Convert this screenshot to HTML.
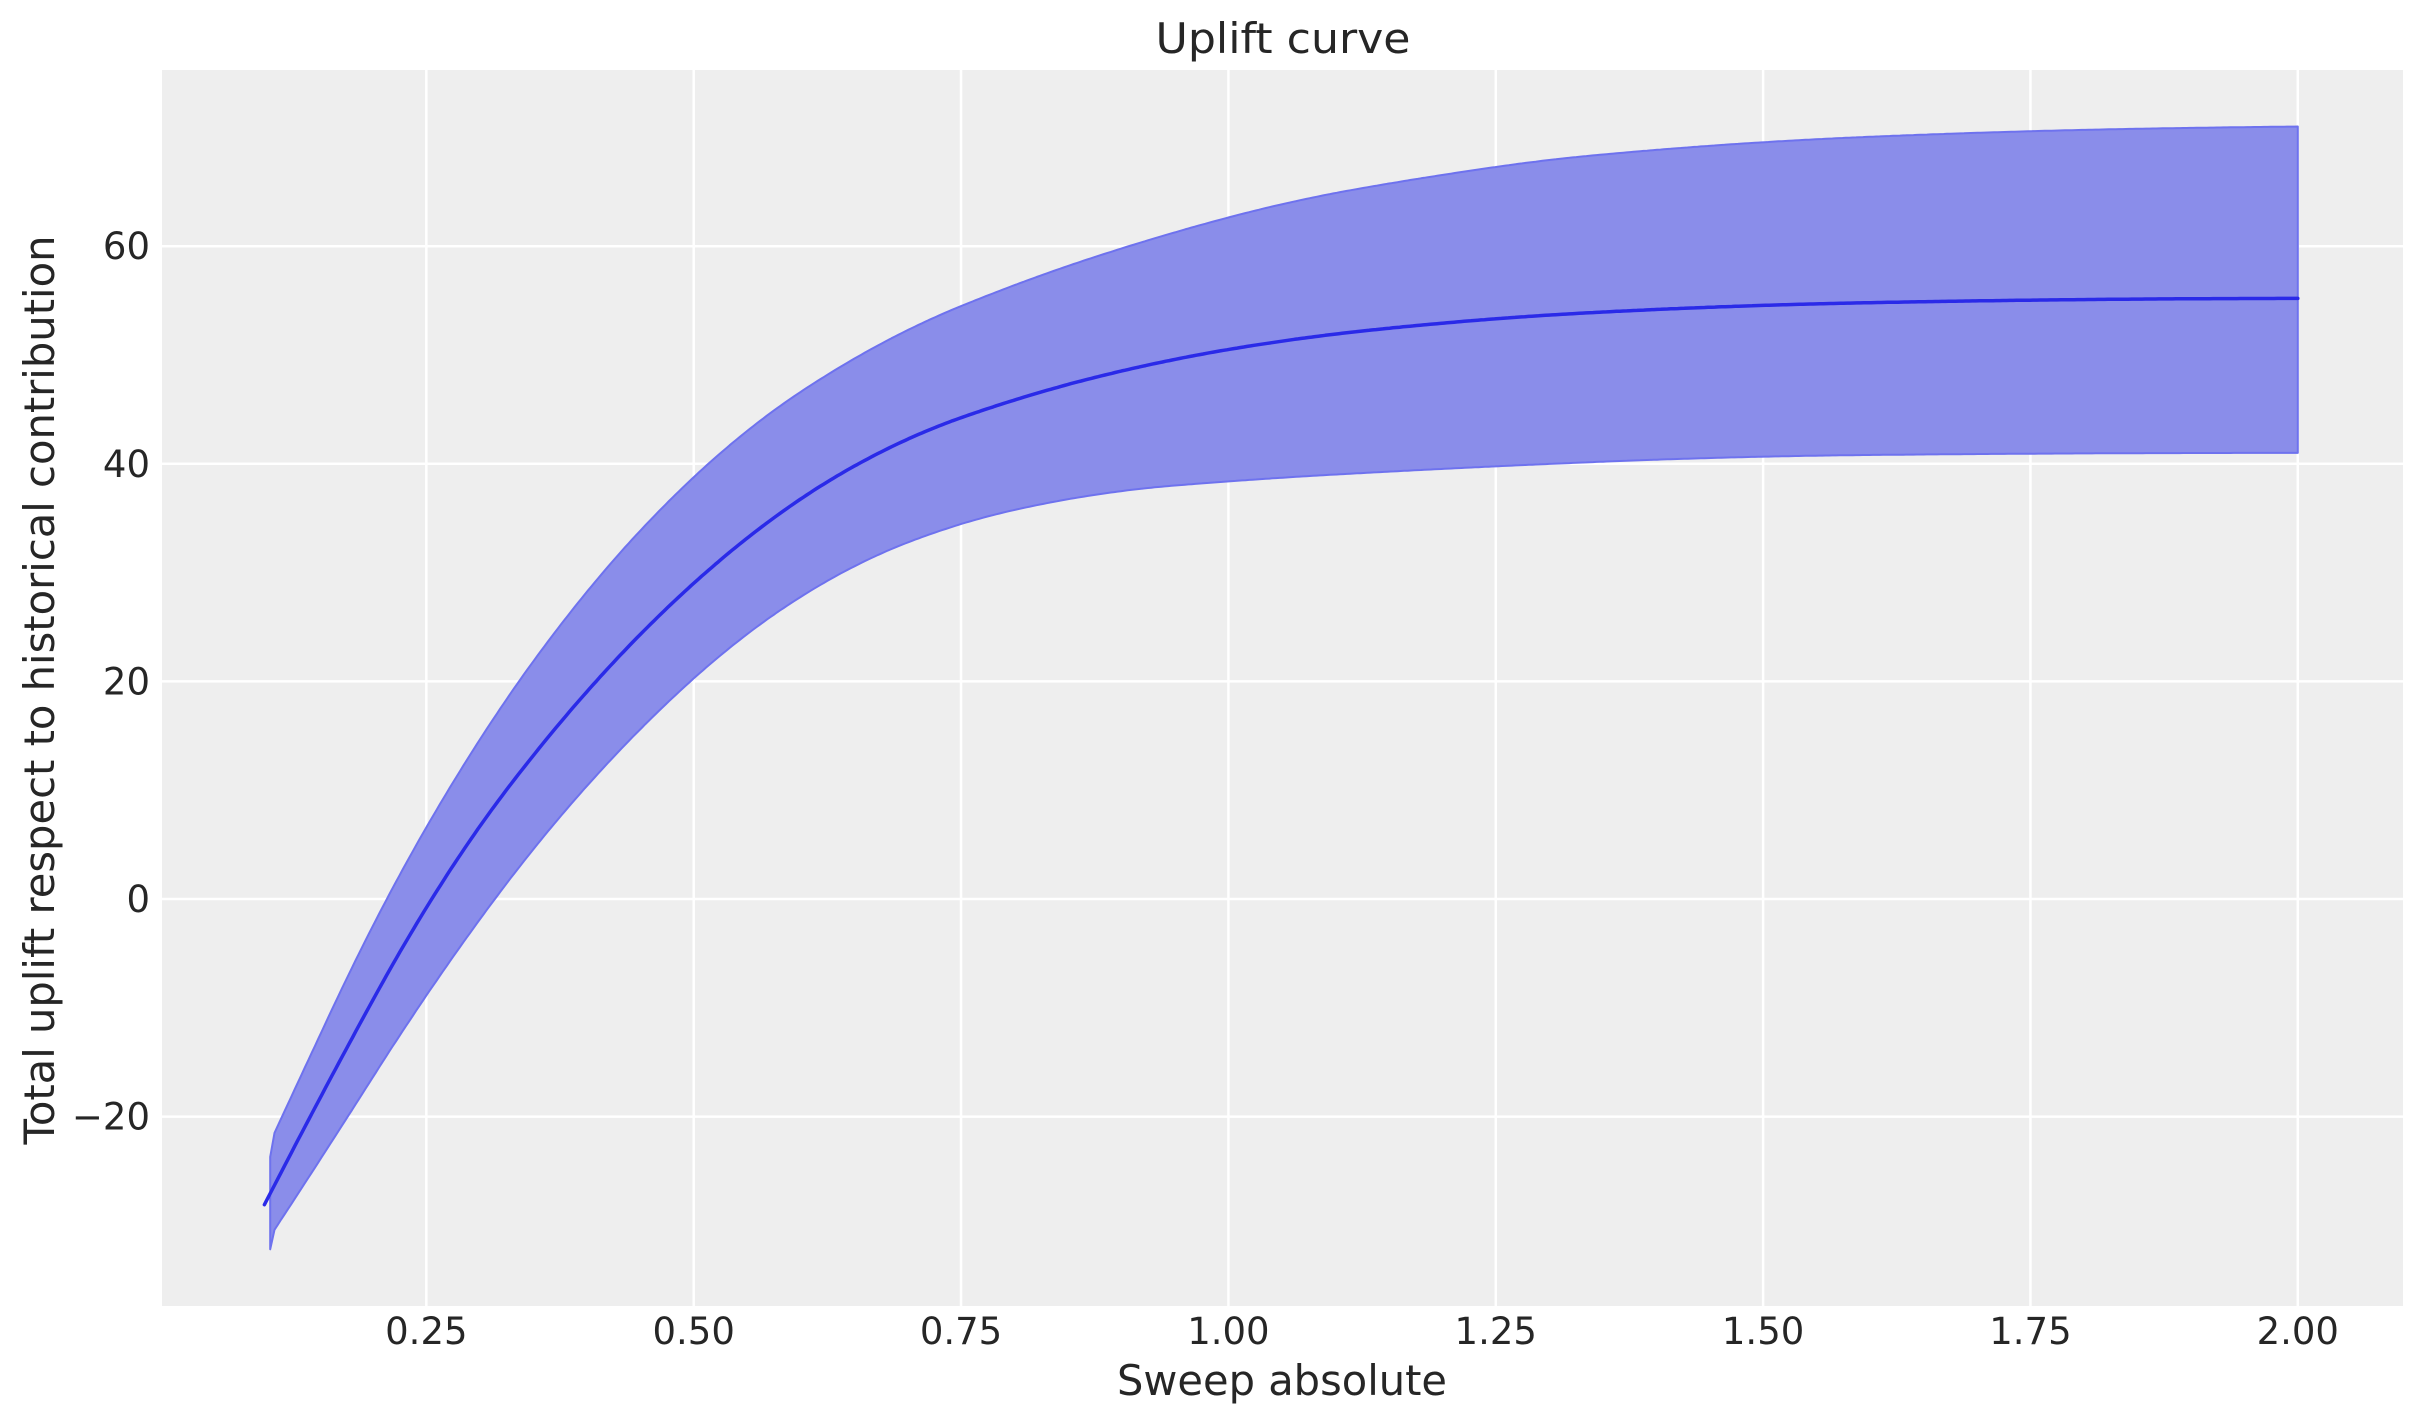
<!DOCTYPE html>
<html><head><meta charset="utf-8"><style>
html,body{margin:0;padding:0;background:#fff}
svg{display:block}
text{font-family:"DejaVu Sans","Liberation Sans",sans-serif;fill:#262626}
</style></head><body>
<svg id="s" width="2423" height="1423" viewBox="0 0 2423 1423" xmlns="http://www.w3.org/2000/svg">
<rect x="0" y="0" width="2423" height="1423" fill="#fff"/>
<rect x="162" y="70" width="2241" height="1236" fill="#eeeeee"/>
<g id="grid" stroke="#fff" stroke-width="2.5"></g>
<path id="band" fill="#8a8dea" stroke="#6e72ee" stroke-width="2" stroke-linejoin="round"/>
<path id="mean" fill="none" stroke="#2a2ae8" stroke-width="3.5" stroke-linecap="round" stroke-linejoin="round"/>
<g id="ticks" font-size="37"></g>
<text x="1283" y="53" font-size="42" text-anchor="middle" textLength="255" lengthAdjust="spacingAndGlyphs">Uplift curve</text>
<text x="1282" y="1395" font-size="42" text-anchor="middle" textLength="330" lengthAdjust="spacingAndGlyphs">Sweep absolute</text>
<text transform="translate(54,690) rotate(-90)" font-size="42" text-anchor="middle" textLength="909" lengthAdjust="spacingAndGlyphs">Total uplift respect to historical contribution</text>
</svg>
<script>
var X=function(v){return 159+1069.4*v},Y=function(v){return 899-10.88*v};
var ns="http://www.w3.org/2000/svg";
var g=document.getElementById('grid'),t=document.getElementById('ticks');
function el(tag,a,p,txt){var e=document.createElementNS(ns,tag);for(var k in a)e.setAttribute(k,a[k]);if(txt)e.textContent=txt;p.appendChild(e);return e;}
[0.25,0.5,0.75,1,1.25,1.5,1.75,2].forEach(function(v){var x=X(v);el('line',{x1:x,x2:x,y1:70,y2:1306},g);
el('text',{x:x,y:1344,'text-anchor':'middle'},t,v.toFixed(2));});
[-20,0,20,40,60].forEach(function(v){var y=Y(v);el('line',{x1:162,x2:2403,y1:y,y2:y},g);
el('text',{x:150,y:y+13,'text-anchor':'end'},t,(v<0?'\u2212':'')+Math.abs(v));});
function slopeAt(k,x){if(x<=k[0][0])return k[0][1];for(var i=0;i<k.length-1;i++){if(x<=k[i+1][0]){var s=(x-k[i][0])/(k[i+1][0]-k[i][0]);return k[i][1]*(1-s)+k[i+1][1]*s;}}return k[k.length-1][1];}
function integ(x0,y0,yEnd,k){var N=600,h=(2-x0)/N,ys=[y0],y=y0;
for(var i=0;i<N;i++){var x=x0+i*h;y+=h*(slopeAt(k,x)+slopeAt(k,x+h))/2;ys.push(y);}
var err=yEnd-ys[N],out=[];for(i=0;i<=N;i++){out.push([X(x0+i*h),Y(ys[i]+err*i/N)]);}return out;}
function pl(a){return a.map(p=>p[0].toFixed(1)+','+p[1].toFixed(1)).join(' L');}
var mean=integ(0.0986,-28.1,55.2,[[0.0986,192],[0.2,180],[0.33,128],[0.45,100],[0.55,78],[0.65,55],[0.75,35],[0.875,25],[1.0,17],[1.125,11],[1.345,5.5],[1.6,2.3],[2,0.5]]);
var up=integ(0.108,-21.5,71,[[0.108,212],[0.16,210],[0.25,170],[0.35,135],[0.45,105],[0.6,65],[0.75,40],[0.875,32],[1.0,26],[1.125,17],[1.25,14],[1.345,9],[1.6,4],[1.875,1.5],[2,1]]);
var lo=integ(0.108,-30.4,41,[[0.108,150],[0.2,155],[0.3,135],[0.4,110],[0.5,88],[0.6,62],[0.7,38],[0.8,22],[0.95,8],[1.1,5.5],[1.35,4],[1.6,1],[2,0]]);
up.unshift([X(0.104),Y(-23.7)]);lo.unshift([X(0.104),Y(-32.2)]);
var d='M'+pl(up)+' L'+pl(lo.slice().reverse())+' Z';
document.getElementById('band').setAttribute('d',d);
document.getElementById('mean').setAttribute('d','M'+pl(mean));
</script>
</body></html>
